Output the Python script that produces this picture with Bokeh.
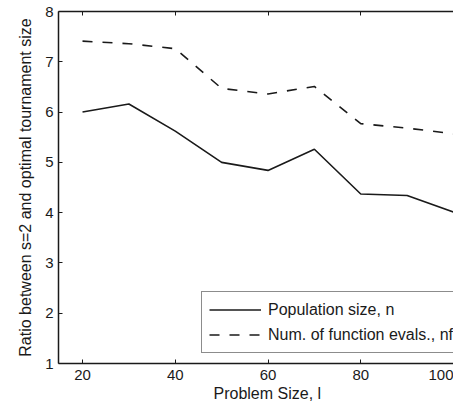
from bokeh.plotting import figure
from bokeh.models import (LinearAxis, FixedTicker, Title, Legend, LegendItem,
                          Range1d, ColumnDataSource)
from bokeh.embed import file_html
from bokeh.resources import INLINE

# ---- data ----
problem_size = [20, 30, 40, 50, 60, 70, 80, 90, 100]
pop_ratio = [6.00, 6.16, 5.62, 5.00, 4.84, 5.26, 4.37, 4.34, 4.01]
fe_ratio = [7.41, 7.36, 7.26, 6.47, 6.36, 6.51, 5.77, 5.68, 5.57]
x_ticks = [20, 40, 60, 80, 100]
y_ticks = [1, 2, 3, 4, 5, 6, 7, 8]
label_pop = "Population size, n"
label_fe = "Num. of function evals., nfe"
x_label = "Problem Size, l"
y_label = "Ratio between s=2 and optimal tournament size"

FONT = "Liberation Sans"
AX = "#1a1a1a"

p = figure(width=453, height=402, output_backend="svg", toolbar_location=None,
           x_range=Range1d(14.82, 100.0), y_range=Range1d(1, 8),
           min_border_left=58, min_border_right=0, min_border_top=11,
           min_border_bottom=39, x_axis_location=None, y_axis_location=None)
p.outline_line_color = None
p.xgrid.visible = False
p.ygrid.visible = False
p.background_fill_color = "white"
p.border_fill_color = "white"

def style_axis(ax):
    ax.axis_line_color = AX
    ax.axis_line_width = 1.5
    ax.major_tick_line_color = AX
    ax.major_tick_line_width = 1
    ax.major_tick_in = 4
    ax.major_tick_out = 0
    ax.minor_tick_line_color = None
    ax.major_label_text_font = FONT
    ax.major_label_text_color = AX
    ax.major_label_text_font_size = "15px"
    ax.major_label_standoff = 5

bottom = LinearAxis(ticker=FixedTicker(ticks=x_ticks))
style_axis(bottom)
bottom.major_label_standoff = 6
p.add_layout(bottom, "below")

top = LinearAxis(ticker=FixedTicker(ticks=x_ticks))
style_axis(top)
top.major_label_overrides = {t: "" for t in x_ticks}
top.major_label_text_font_size = "1px"
top.major_label_standoff = 0
p.add_layout(top, "above")

left = LinearAxis(ticker=FixedTicker(ticks=y_ticks))
style_axis(left)
left.axis_label = y_label
left.axis_label_text_font = FONT
left.axis_label_text_font_size = "16px"
left.axis_label_text_font_style = "normal"
left.axis_label_text_color = AX
left.axis_label_standoff = 8
p.add_layout(left, "left")

src = ColumnDataSource(dict(x=problem_size, pop=pop_ratio, fe=fe_ratio))
r1 = p.line("x", "pop", source=src, line_color=AX, line_width=1.6)
r2 = p.line("x", "fe", source=src, line_color=AX, line_width=1.6,
            line_dash="10 10")

xt = Title(text=x_label, align="left", offset=155, standoff=0,
           text_font=FONT, text_font_size="16px", text_font_style="normal",
           text_color=AX)
p.add_layout(xt, "below")

legend = Legend(items=[LegendItem(label=label_pop, renderers=[r1]),
                       LegendItem(label=label_fe, renderers=[r2])],
                location=(143, 10), margin=0, padding=7, spacing=4,
                glyph_width=52, glyph_height=21, label_height=21,
                label_standoff=7, label_text_font=FONT,
                label_text_font_size="16px", label_text_color=AX,
                border_line_color=AX, border_line_width=1.5,
                background_fill_color="white", background_fill_alpha=1)
p.add_layout(legend, "center")

open("out.html", "w").write(file_html(p, INLINE))
